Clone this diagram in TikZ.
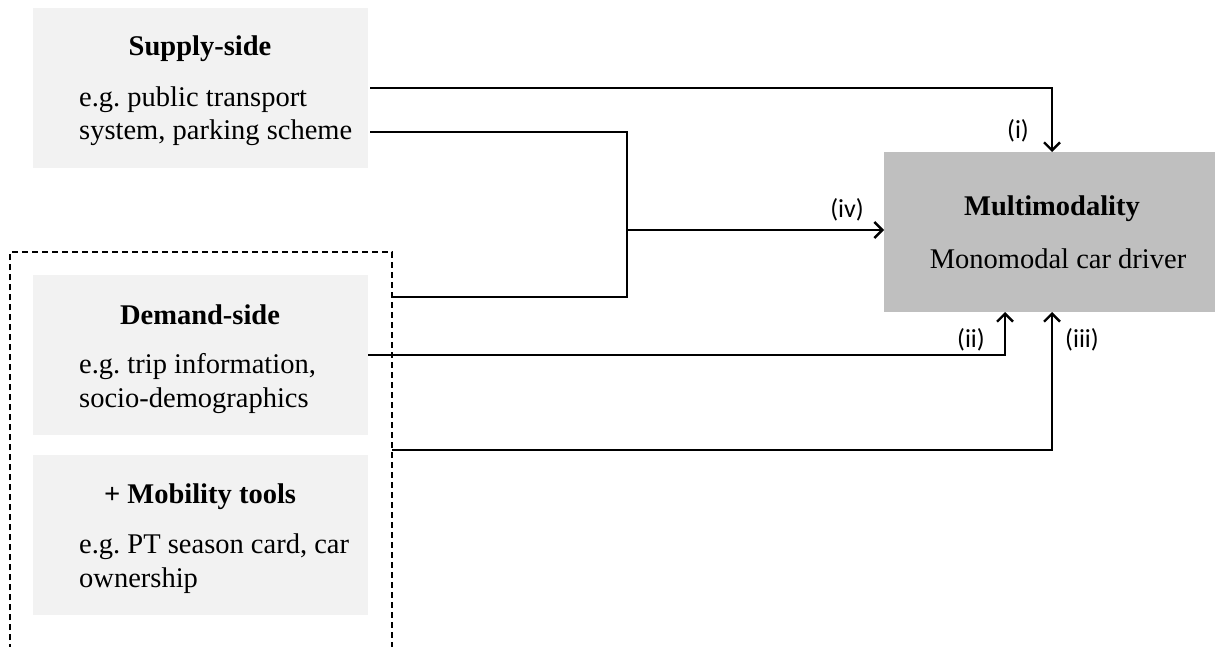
\documentclass[tikz,border=0pt]{standalone}
\usepackage{fontspec}
\setmainfont{Liberation Serif}
\newfontfamily\lblfont{Carlito}
\usetikzlibrary{arrows.meta}
\definecolor{lightbox}{HTML}{F2F2F2}
\definecolor{darkbox}{HTML}{BFBFBF}
\frenchspacing
\begin{document}
\begin{tikzpicture}[x=1pt,y=-1pt,
  inbox/.style={fill=lightbox, draw=none, inner sep=0pt, minimum width=335pt, minimum height=160pt, anchor=north west},
  outbox/.style={fill=darkbox, draw=none, inner sep=0pt, minimum width=331pt, minimum height=160pt, anchor=north west},
  ttl/.style={font=\fontsize{28.5}{33}\selectfont\bfseries, inner sep=0pt, anchor=base},
  bodytxt/.style={font=\fontsize{28.5}{33}\selectfont, inner sep=0pt, anchor=base west},
  lbl/.style={font=\lblfont\fontsize{26}{30}\selectfont, inner sep=0pt, anchor=base},
  conn/.style={line width=2.4pt},
  arr/.style={line width=2.4pt, -{Straight Barb[length=8pt, width=16pt, line width=2.4pt]}},
  dbox/.style={line width=2.2pt, dash pattern=on 6pt off 4pt}
]
\useasboundingbox (0,0) rectangle (1215,646);

% boxes
\node[inbox] (supply) at (33,8) {};
\node[inbox] (demand) at (33,275) {};
\node[inbox] (mobility) at (33,455) {};
\node[outbox] (multi) at (884,152) {};

% texts
\node[ttl] (supplyT) at (200,55) {Supply-side};
\node[bodytxt] (supplyA) at (79,106) {e.g. public transport};
\node[bodytxt] (supplyB) at (79,139) {system, parking scheme};

\node[ttl] (demandT) at (200,324) {Demand-side};
\node[bodytxt] (demandA) at (79,373) {e.g. trip information,};
\node[bodytxt] (demandB) at (79,407) {socio-demographics};

\node[ttl] (mobT) at (200,503) {+ Mobility tools};
\node[bodytxt] (mobA) at (79,553) {e.g. PT season card, car};
\node[bodytxt] (mobB) at (79,587) {ownership};

\node[ttl] (multiT) at (1052,215) {Multimodality};
\node[font=\fontsize{28.5}{33}\selectfont, inner sep=0pt, anchor=base] (multiB) at (1058,268) {Monomodal car driver};

% dashed group
\coordinate (dBL) at (10,650);
\coordinate (dTL) at (10,252);
\coordinate (dTR) at (392,252);
\coordinate (dBR) at (392,650);
\draw[dbox] (dBL) -- (dTL) -- (dTR) -- (dBR);

% connectors
\coordinate (s1) at (370,88);
\coordinate (s2) at (370,132);
\coordinate (g1) at (392,297);
\coordinate (g2) at (392,450);
\coordinate (d1) at (368,355);
\coordinate (jx) at (627,230);

\draw[arr] (s1) -- (1052,88) -- (1052,152);
\draw[conn] (s2) -- (627,132) -- (627,297) -- (g1);
\draw[arr] (jx) -- (884,230);
\draw[arr] (d1) -- (1005,355) -- (1005,312);
\draw[arr] (g2) -- (1052,450) -- (1052,312);

% labels
\node[lbl] (li) at (1018,138) {(i)};
\node[lbl] (liv) at (847,217) {(iv)};
\node[lbl] (lii) at (971,347) {(ii)};
\node[lbl] (liii) at (1082,347) {(iii)};
\end{tikzpicture}
\end{document}
